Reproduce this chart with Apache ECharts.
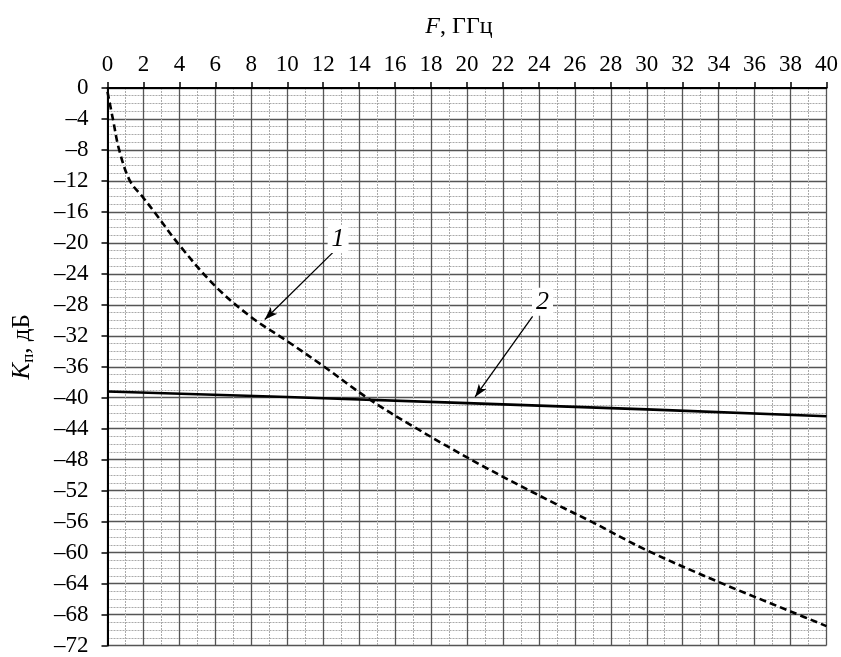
<!DOCTYPE html>
<html>
<head>
<meta charset="utf-8">
<script src="https://cdn.jsdelivr.net/npm/echarts@6/dist/echarts.min.js"></script>
<style>html,body{margin:0;padding:0;background:#fff}#c{width:841px;height:657px}</style>
</head>
<body>
<div id="c"></div>
<script>
// Curve 1 (dashed)
const freq1 = [0, 0.3, 0.65, 1.25, 2, 2.6, 4, 6, 8, 10, 12, 14.5, 17, 20.7, 25, 27, 30, 34, 38, 40];
const loss1 = [-0.5, -4, -8, -12, -14.2, -16, -20.3, -25.6, -29.6, -32.7, -35.9, -40.1, -43.7, -48.6, -53.8, -56.1, -59.7, -63.8, -67.6, -69.5];
// Curve 2 (solid)
const freq2 = [0, 10, 20, 30, 40];
const loss2 = [-39.2, -39.9, -40.7, -41.5, -42.4];
// Axis ranges
const xTicks = {min: 0, max: 40, step: 2};
const yTicks = {min: -72, max: 0, step: 4};
// Annotations: label text, label point, arrow start, arrow end (data coords)
const noteLabels = ['1', '2'];
const notePoints = [[12.83, -19.5], [24.2, -27.6]];
const arrowStart = [[12.56, -21.2], [23.65, -29.5]];
const arrowEnd = [[8.75, -29.9], [20.45, -39.9]];

const serif = 'Liberation Serif';
const fmt = v => v < 0 ? '\u2013' + (-v) : String(v);

const chart = echarts.init(document.getElementById('c'), null, {renderer: 'canvas'});
chart.setOption({
  animation: false,
  backgroundColor: '#fff',
  grid: {left: 104, top: 88, right: 10, bottom: 6.5, containLabel: false},
  xAxis: {
    type: 'value', position: 'top',
    min: xTicks.min, max: xTicks.max, interval: xTicks.step,
    name: '{i|F}{n|, ГГц}', nameLocation: 'middle', nameGap: 49,
    nameTextStyle: {padding: [0, 16, 0, 0], rich: {
      i: {fontFamily: serif, fontSize: 24, fontStyle: 'italic', color: '#000'},
      n: {fontFamily: serif, fontSize: 24, color: '#000'}
    }},
    axisLine: {show: true, onZero: false, lineStyle: {color: '#000', width: 2}},
    axisTick: {show: true, inside: false, length: 6, lineStyle: {color: '#000', width: 1.5}},
    axisLabel: {fontFamily: serif, fontSize: 23, color: '#000', margin: 12, formatter: fmt},
    splitLine: {show: true, lineStyle: {color: '#555', width: 1.3}},
    minorTick: {show: false, splitNumber: 2},
    minorSplitLine: {show: true, lineStyle: {color: '#aaa', width: 1, type: [2, 1]}}
  },
  yAxis: {
    type: 'value',
    min: yTicks.min, max: yTicks.max, interval: yTicks.step,
    name: '{k|K}{s|п}{n|, дБ}', nameLocation: 'middle', nameGap: 70,
    nameTextStyle: {padding: [0, 0, 0, 40], rich: {
      k: {fontFamily: serif, fontSize: 25, fontStyle: 'italic', color: '#000', lineHeight: 30},
      s: {fontFamily: serif, fontSize: 17, color: '#000', lineHeight: 30, padding: [12, 0, 0, 0]},
      n: {fontFamily: serif, fontSize: 25, color: '#000', lineHeight: 30}
    }},
    axisLine: {show: true, onZero: false, lineStyle: {color: '#000', width: 2}},
    axisTick: {show: true, inside: false, length: 6, lineStyle: {color: '#000', width: 1.5}},
    axisLabel: {fontFamily: serif, fontSize: 23, color: '#000', margin: 19, formatter: fmt},
    splitLine: {show: true, lineStyle: {color: '#555', width: 1.3}},
    minorTick: {show: false, splitNumber: 4},
    minorSplitLine: {show: true, lineStyle: {color: '#aaa', width: 1, type: [2, 1]}}
  },
  series: [
    {
      type: 'line', name: '1',
      data: freq1.map((f, i) => [f, loss1[i]]),
      showSymbol: false, smooth: 0.35,
      lineStyle: {color: '#000', width: 2.6, type: [7, 4]},
      z: 5
    },
    {
      type: 'line', name: '2',
      data: freq2.map((f, i) => [f, loss2[i]]),
      showSymbol: false,
      lineStyle: {color: '#000', width: 2.6},
      z: 5,
      markLine: {
        silent: true, animation: false,
        symbol: ['none', 'arrow'], symbolSize: [7, 13],
        lineStyle: {color: '#000', width: 1.3, type: 'solid'},
        label: {show: false},
        data: arrowStart.map((s, i) => [{coord: s}, {coord: arrowEnd[i]}])
      },
      markPoint: {
        silent: true, animation: false,
        symbol: 'circle', symbolSize: 0,
        label: {
          show: true, position: 'inside', color: '#000',
          fontFamily: serif, fontSize: 26, fontStyle: 'italic',
          backgroundColor: '#fff', padding: [1, 4],
          formatter: p => p.name
        },
        data: noteLabels.map((t, i) => ({name: t, coord: notePoints[i]}))
      }
    }
  ]
});
</script>
</body>
</html>
